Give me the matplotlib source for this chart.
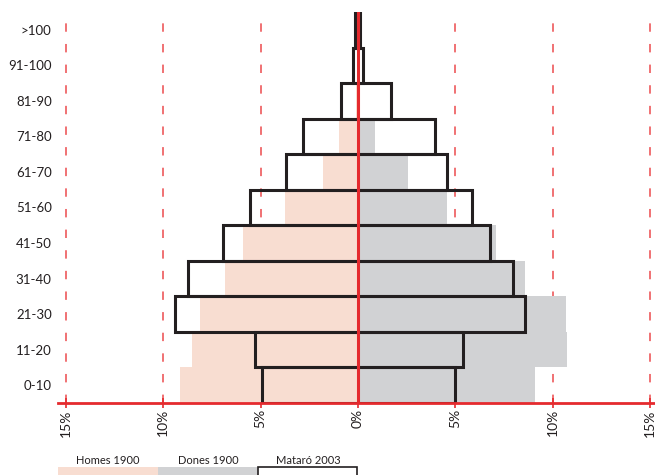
import matplotlib
matplotlib.use("Agg")
import matplotlib.pyplot as plt
from matplotlib.patches import Rectangle

plt.rcParams['font.family'] = ['Lato', 'DejaVu Sans']

# ---- data (percent of population) ----
age_groups = ["0-10", "11-20", "21-30", "31-40", "41-50", "51-60",
              "61-70", "71-80", "81-90", "91-100", ">100"]
homes_1900 = [9.13, 8.53, 8.10, 6.82, 5.88, 3.74, 1.81, 0.97, 0.10, 0.0, 0.0]
dones_1900 = [9.08, 10.75, 10.70, 8.56, 7.11, 4.55, 2.55, 0.87, 0.10, 0.0, 0.0]
mataro_2003_men = [4.94, 5.28, 9.38, 8.75, 6.94, 5.54, 3.69, 2.80, 0.86, 0.23, 0.16]
mataro_2003_women = [4.97, 5.37, 8.56, 7.97, 6.77, 5.83, 4.55, 3.95, 1.69, 0.27, 0.10]
x_ticks = [-15, -10, -5, 0, 5, 10, 15]
x_tick_labels = ["15%", "10%", "5%", "0%", "5%", "10%", "15%"]
legend_labels = ["Homes 1900", "Dones 1900", "Mataró 2003"]

PINK = "#F8DDD1"
GRAY = "#D1D2D4"
BLACK = "#231F20"
RED = "#E52A2E"
DASHRED = "#EC4A4D"

W, H = 655, 475
fig = plt.figure(figsize=(W / 100, H / 100), dpi=100)
ax_left, ax_right, ax_top, ax_bottom = 58, 655, 12, 403
ax = fig.add_axes([ax_left / W, (H - ax_bottom) / H,
                   (ax_right - ax_left) / W, (ax_bottom - ax_top) / H])

y = list(range(len(age_groups)))

# 1900 bars
ax.barh(y, [-v for v in homes_1900], height=1.0, color=PINK, linewidth=0, zorder=2)
ax.barh(y, dones_1900, height=1.0, color=GRAY, linewidth=0, zorder=2)

# dashed grid lines
for t in x_ticks:
    if t != 0:
        ax.axvline(t, color=DASHRED, lw=1.1, linestyle=(0, (5.5, 8.0)), zorder=1)

# Mataró 2003 outline boxes
ax.barh(y, [m + w for m, w in zip(mataro_2003_men, mataro_2003_women)],
        left=[-m for m in mataro_2003_men], height=1.0, fill=False,
        edgecolor=BLACK, linewidth=2.2, zorder=3)

# center line
ax.axvline(0, color=RED, lw=2.2, zorder=4)
# bottom axis line
ax.axhline(-0.5, color=RED, lw=2.0, zorder=5, clip_on=False)

ax.set_xlim(-15.4, 15.25)
ax.set_ylim(-0.5, len(age_groups) - 0.5)

for s in ax.spines.values():
    s.set_visible(False)

ax.set_yticks(y)
ax.set_yticklabels(age_groups, fontsize=9.5, color=BLACK)
ax.tick_params(axis='y', length=0, pad=4.5)

ax.set_xticks(x_ticks)
ax.set_xticklabels(x_tick_labels, rotation=90, fontsize=10, color=BLACK,
                   va='top', ha='center')
ax.tick_params(axis='x', direction='inout', length=7, width=1.2, color=RED, pad=1)

# legend along the bottom
leg_colors = [PINK, GRAY, "white"]
leg_edges = [None, None, BLACK]
for i, (lab, c, e) in enumerate(zip(legend_labels, leg_colors, leg_edges)):
    x0 = 58 + i * 100
    if e is None:
        r = Rectangle((x0 / W, 0), 100 / W, 8 / H, transform=fig.transFigure,
                      facecolor=c, edgecolor='none')
    else:
        r = Rectangle((x0 / W, -0.01), 99 / W, 8 / H + 0.01, transform=fig.transFigure,
                      facecolor=c, edgecolor=e, linewidth=1.2)
    fig.patches.append(r)
    fig.text((x0 + 50) / W, (H - 461) / H, lab, ha='center', va='center',
             fontsize=8, color=BLACK)

fig.savefig("out.png", dpi=100)
